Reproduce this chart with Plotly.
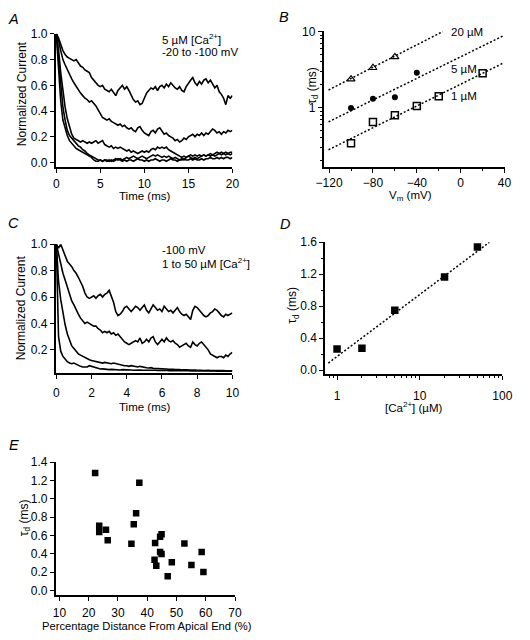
import plotly.graph_objects as go

W, H = 530, 640
FONT = "Liberation Sans, Arial, Helvetica, sans-serif"
FS = 12
FS_NOTE = 11.5

# ---------------- Panel A : 5 uM Ca, -20 to -100 mV ----------------
A_TIME_MS = [0, 0.25, 0.5, 0.75, 1, 1.25, 1.5, 1.75, 2, 2.25, 2.5, 2.75, 3, 3.25, 3.5, 3.75,
             4, 4.25, 4.5, 4.75, 5, 5.25, 5.5, 5.75, 6, 6.25, 6.5, 6.75, 7, 7.25, 7.5, 7.75,
             8, 8.25, 8.5, 8.75, 9, 9.25, 9.5, 9.75, 10, 10.25, 10.5, 10.75, 11, 11.25, 11.5,
             11.75, 12, 12.25, 12.5, 12.75, 13, 13.25, 13.5, 13.75, 14, 14.25, 14.5, 14.75,
             15, 15.25, 15.5, 15.75, 16, 16.25, 16.5, 16.75, 17, 17.25, 17.5, 17.75, 18,
             18.25, 18.5, 18.75, 19, 19.25, 19.5, 19.75, 20]
A_TRACE_1 = [1.0, 0.97, 0.92, 0.87, 0.84, 0.82, 0.81, 0.80, 0.79, 0.80,
             0.77, 0.75, 0.74, 0.72, 0.71, 0.70, 0.66, 0.64, 0.62, 0.60,
             0.59, 0.60, 0.57, 0.56, 0.55, 0.57, 0.54, 0.52, 0.56, 0.58,
             0.60, 0.57, 0.59, 0.56, 0.52, 0.49, 0.47, 0.48, 0.45, 0.46,
             0.50,
             0.54, 0.56, 0.58, 0.57, 0.59, 0.56, 0.59, 0.60, 0.58, 0.61,
             0.59, 0.62, 0.60, 0.58, 0.57, 0.59, 0.56, 0.55, 0.59, 0.62,
             0.64, 0.66, 0.62, 0.60, 0.63, 0.61, 0.64, 0.65, 0.62, 0.64,
             0.61, 0.58, 0.60, 0.55, 0.53, 0.50, 0.45, 0.52, 0.50, 0.52]
A_TRACE_2 = [1.0, 0.95, 0.87, 0.80, 0.76, 0.72, 0.69, 0.65, 0.62, 0.59,
             0.57, 0.54, 0.52, 0.50, 0.49, 0.47, 0.48, 0.46, 0.44, 0.41,
             0.38, 0.35, 0.34, 0.33, 0.34, 0.32, 0.31, 0.30, 0.29, 0.30,
             0.28, 0.29, 0.27, 0.26, 0.27, 0.25, 0.24, 0.27, 0.28, 0.25,
             0.23,
             0.22, 0.21, 0.24, 0.25, 0.23, 0.26, 0.27, 0.24, 0.22, 0.23,
             0.21, 0.20, 0.19, 0.17, 0.18, 0.16, 0.17, 0.19, 0.18, 0.20,
             0.21, 0.22, 0.20, 0.22, 0.21, 0.23, 0.21, 0.23, 0.22, 0.24,
             0.26, 0.25, 0.23, 0.24, 0.22, 0.24, 0.23, 0.25, 0.24, 0.25]
A_TRACE_3 = [1.0, 0.88, 0.70, 0.55, 0.43, 0.34, 0.27, 0.22, 0.19, 0.18,
             0.17, 0.16, 0.17, 0.16, 0.15, 0.16, 0.15, 0.16, 0.17, 0.15,
             0.16, 0.17, 0.14, 0.13, 0.12, 0.13, 0.11, 0.12, 0.11, 0.12,
             0.11, 0.10, 0.09, 0.10, 0.08, 0.09, 0.08, 0.07, 0.08, 0.09,
             0.08,
             0.09, 0.08, 0.10, 0.11, 0.10, 0.12, 0.11, 0.12, 0.11, 0.12,
             0.10, 0.09, 0.08, 0.07, 0.06, 0.05, 0.04, 0.05, 0.04, 0.05,
             0.06, 0.05, 0.06, 0.05, 0.06, 0.05, 0.06, 0.05, 0.06, 0.07,
             0.06, 0.07, 0.08, 0.07, 0.08, 0.07, 0.08, 0.07, 0.08, 0.08]
A_TRACE_4 = [1.0, 0.80, 0.58, 0.43, 0.33, 0.25, 0.21, 0.19, 0.17, 0.15,
             0.13, 0.12, 0.10, 0.09, 0.07, 0.06, 0.05, 0.04, 0.03, 0.02,
             0.02, 0.01, 0.02, 0.01, 0.02, 0.01, 0.02, 0.03, 0.02, 0.03,
             0.02, 0.03, 0.04, 0.03, 0.04, 0.05, 0.04, 0.03, 0.04, 0.05,
             0.04,
             0.03, 0.04, 0.05, 0.06, 0.05, 0.06, 0.05, 0.04, 0.05, 0.04,
             0.05, 0.04, 0.03, 0.04, 0.03, 0.02, 0.03, 0.02, 0.04, 0.05,
             0.04, 0.03, 0.04, 0.03, 0.04, 0.05, 0.06, 0.05, 0.06, 0.05,
             0.06, 0.05, 0.06, 0.07, 0.06, 0.07, 0.06, 0.07, 0.06, 0.07]
A_TRACE_5 = [1.0, 0.72, 0.48, 0.33, 0.26, 0.21, 0.17, 0.15, 0.13, 0.11,
             0.10, 0.09, 0.08, 0.07, 0.06, 0.05, 0.04, 0.02, 0.01, 0.01,
             0.02, 0.01, 0.02, 0.02, 0.01, 0.02, 0.01, 0.02, 0.03, 0.02,
             0.01, 0.02, 0.01, 0.02, 0.02, 0.01, 0.02, 0.03, 0.02, 0.02,
             0.01,
             0.02, 0.01, 0.02, 0.02, 0.03, 0.02, 0.01, 0.02, 0.02, 0.01,
             0.02, 0.03, 0.02, 0.02, 0.01, 0.02, 0.02, 0.03, 0.02, 0.02,
             0.03, 0.02, 0.03, 0.02, 0.02, 0.03, 0.02, 0.03, 0.03, 0.04,
             0.03, 0.03, 0.04, 0.03, 0.04, 0.03, 0.04, 0.04, 0.03, 0.04]
A_TICKS_X = [0, 5, 10, 15, 20]
A_TICKS_Y = [0.0, 0.2, 0.4, 0.6, 0.8, 1.0]

# ---------------- Panel B : tau_d vs Vm ----------------
B20_VM = [-100, -80, -60]
B20_TAU = [2.37, 3.35, 4.65]
B5_VM = [-100, -80, -60, -40]
B5_TAU = [0.99, 1.31, 1.37, 2.89]
B1_VM = [-100, -80, -60, -40, -20, 20]
B1_TAU = [0.342, 0.65, 0.795, 1.05, 1.41, 2.84]
B20_FIT_VM = [-120.5, -16.4]
B20_FIT_TAU = [1.71, 10.0]
B5_FIT_VM = [-120.5, 39.3]
B5_FIT_TAU = [0.652, 8.87]
B1_FIT_VM = [-120.5, 39.3]
B1_FIT_TAU = [0.28, 3.89]
B_TICKS_X = [-120, -80, -40, 0, 40]
B_MINOR_X = [-100, -60, -20, 20]
B_TICKS_Y = [1, 10]
B_MINOR_Y = [0.2, 0.3, 0.4, 0.5, 0.6, 0.7, 0.8, 0.9, 2, 3, 4, 5, 6, 7, 8, 9]

# ---------------- Panel C : -100 mV, 1 to 50 uM Ca ----------------
C_TIME_MS = [0, 0.125, 0.25, 0.375, 0.5, 0.625, 0.75, 0.875, 1, 1.125, 1.25, 1.375, 1.5,
             1.625, 1.75, 1.875, 2, 2.125, 2.25, 2.375, 2.5, 2.625, 2.75, 2.875, 3, 3.125,
             3.25, 3.375, 3.5, 3.625, 3.75, 3.875, 4, 4.125, 4.25, 4.375, 4.5, 4.625, 4.75,
             4.875, 5, 5.125, 5.25, 5.375, 5.5, 5.625, 5.75, 5.875, 6, 6.125, 6.25, 6.375,
             6.5, 6.625, 6.75, 6.875, 7, 7.125, 7.25, 7.375, 7.5, 7.625, 7.75, 7.875, 8,
             8.125, 8.25, 8.375, 8.5, 8.625, 8.75, 8.875, 9, 9.125, 9.25, 9.375, 9.5, 9.625,
             9.75, 9.875, 10]
C_TRACE_1 = [1.0, 0.97, 1.0, 0.96, 0.92, 0.87, 0.85, 0.83, 0.80, 0.78,
             0.75, 0.72, 0.68, 0.63, 0.60, 0.59, 0.60, 0.61, 0.59, 0.61,
             0.62, 0.60, 0.62, 0.63, 0.65, 0.61, 0.56, 0.49, 0.46, 0.47,
             0.49, 0.52, 0.53, 0.51, 0.49, 0.51, 0.53, 0.52, 0.50, 0.52,
             0.54, 0.50, 0.48, 0.51, 0.54, 0.52, 0.50, 0.51, 0.49, 0.53,
             0.51, 0.49, 0.50, 0.48, 0.50, 0.52, 0.49, 0.47, 0.46, 0.47,
             0.45, 0.43, 0.50, 0.53, 0.52, 0.50, 0.48, 0.46, 0.45, 0.46,
             0.48, 0.49, 0.51, 0.50, 0.48, 0.46, 0.45, 0.47, 0.46, 0.47,
             0.48]
C_TRACE_2 = [1.0, 0.92, 0.84, 0.78, 0.73, 0.67, 0.63, 0.57, 0.54, 0.50,
             0.47, 0.44, 0.42, 0.40, 0.41, 0.40, 0.39, 0.38, 0.38, 0.36,
             0.35, 0.33, 0.34, 0.33, 0.34, 0.32, 0.33, 0.31, 0.32, 0.30,
             0.28, 0.26, 0.25, 0.24, 0.25, 0.26, 0.27, 0.26, 0.29, 0.25,
             0.26, 0.28, 0.26, 0.29, 0.30, 0.26, 0.24, 0.26, 0.28, 0.26,
             0.29, 0.27, 0.26, 0.27, 0.25, 0.24, 0.22, 0.23, 0.24, 0.25,
             0.23, 0.22, 0.26, 0.24, 0.23, 0.25, 0.26, 0.24, 0.22, 0.20,
             0.17, 0.16, 0.15, 0.14, 0.15, 0.15, 0.14, 0.16, 0.15, 0.17,
             0.18]
C_TRACE_3 = [1.0, 0.72, 0.58, 0.47, 0.39, 0.32, 0.27, 0.23, 0.21, 0.19,
             0.17, 0.16, 0.15, 0.14, 0.13, 0.125, 0.12, 0.115, 0.11, 0.105,
             0.105, 0.10, 0.105, 0.10, 0.10, 0.095, 0.10, 0.095, 0.09, 0.09,
             0.085, 0.08, 0.08, 0.075, 0.08, 0.075, 0.075, 0.07, 0.075, 0.07,
             0.068, 0.065, 0.063, 0.065, 0.06, 0.06, 0.058, 0.06, 0.056, 0.058,
             0.055, 0.053, 0.055, 0.052, 0.05, 0.052, 0.05, 0.048, 0.05, 0.048,
             0.047, 0.048, 0.046, 0.047, 0.045, 0.047, 0.045, 0.044, 0.046, 0.045,
             0.043, 0.045, 0.044, 0.043, 0.045, 0.043, 0.044, 0.042, 0.043, 0.042,
             0.042]
C_TRACE_4 = [1.0, 0.30, 0.19, 0.15, 0.13, 0.11, 0.10, 0.095, 0.10, 0.09,
             0.085, 0.075, 0.07, 0.068, 0.07, 0.08, 0.075, 0.065, 0.06, 0.058,
             0.055, 0.056, 0.053, 0.052, 0.05, 0.052, 0.05, 0.049, 0.05, 0.048,
             0.05, 0.048, 0.047, 0.049, 0.047, 0.046, 0.048, 0.046, 0.047, 0.045,
             0.046,
             0.045, 0.046, 0.044, 0.045, 0.046, 0.044, 0.045, 0.043, 0.044, 0.045,
             0.043, 0.044, 0.042, 0.043, 0.044, 0.042, 0.043, 0.041, 0.042, 0.043,
             0.041, 0.042, 0.040, 0.041, 0.042, 0.040, 0.041, 0.040, 0.042, 0.041,
             0.040, 0.041, 0.039, 0.040, 0.041, 0.039, 0.040, 0.039, 0.040, 0.039]
C_TICKS_X = [0, 2, 4, 6, 8, 10]
C_TICKS_Y = [0.2, 0.4, 0.6, 0.8, 1.0]

# ---------------- Panel D : tau_d vs [Ca] ----------------
D_CA_UM = [1, 2, 5, 20, 50]
D_TAU = [0.267, 0.274, 0.75, 1.165, 1.54]
D_FIT_CA = [0.785, 69.8]
D_FIT_TAU = [0.09, 1.6]
D_TICKS_X = [1, 10, 100]
D_MINOR_X = [0.8, 0.9, 2, 3, 4, 5, 6, 7, 8, 9, 20, 30, 40, 50, 60, 70, 80, 90]
D_TICKS_Y = [0.0, 0.4, 0.8, 1.2, 1.6]
D_MINOR_Y = [0.2, 0.6, 1.0, 1.4]

# ---------------- Panel E : tau_d vs position ----------------
E_DIST_PCT = [22.2, 37.3, 36.2, 35.4, 23.6, 23.6, 25.9, 26.5, 34.6, 42.7, 44.4,
              44.9, 44.4, 44.9, 42.5, 43.1, 48.4, 52.7, 47.0, 55.1, 58.6, 59.2]
E_TAU = [1.28, 1.175, 0.842, 0.723, 0.705, 0.638, 0.662, 0.548, 0.509, 0.516, 0.584,
         0.612, 0.419, 0.397, 0.333, 0.269, 0.308, 0.512, 0.154, 0.276, 0.419, 0.20]
E_TICKS_X = [10, 20, 30, 40, 50, 60, 70]
E_TICKS_Y = [0.0, 0.2, 0.4, 0.6, 0.8, 1.0, 1.2, 1.4]

for arr in (A_TRACE_1, A_TRACE_2, A_TRACE_3, A_TRACE_4, A_TRACE_5):
    assert len(arr) == len(A_TIME_MS), len(arr)
for arr in (C_TRACE_1, C_TRACE_2, C_TRACE_3, C_TRACE_4):
    assert len(arr) == len(C_TIME_MS), len(arr)


def fx(p):
    return p / W


def fy(p):
    return 1 - p / H


fig = go.Figure()
line_style = dict(color="black", width=1.6)

for tr in (A_TRACE_1, A_TRACE_2, A_TRACE_3, A_TRACE_4, A_TRACE_5):
    fig.add_trace(go.Scatter(x=A_TIME_MS, y=tr, mode="lines", line=line_style,
                             xaxis="x", yaxis="y", showlegend=False))

fit_line = dict(color="black", width=1.5, dash="2px,2px")
for vx, ty in ((B20_FIT_VM, B20_FIT_TAU), (B5_FIT_VM, B5_FIT_TAU), (B1_FIT_VM, B1_FIT_TAU)):
    fig.add_trace(go.Scatter(x=vx, y=ty, mode="lines", line=fit_line,
                             xaxis="x2", yaxis="y2", showlegend=False))
fig.add_trace(go.Scatter(x=B20_VM, y=B20_TAU, mode="markers", xaxis="x2", yaxis="y2",
                         marker=dict(symbol="triangle-up-open", size=7, color="black",
                                     line=dict(width=1.2, color="black")), showlegend=False))
fig.add_trace(go.Scatter(x=B5_VM, y=B5_TAU, mode="markers", xaxis="x2", yaxis="y2",
                         marker=dict(symbol="circle", size=6, color="black"), showlegend=False))
fig.add_trace(go.Scatter(x=B1_VM, y=B1_TAU, mode="markers", xaxis="x2", yaxis="y2",
                         marker=dict(symbol="square-open", size=7, color="black",
                                     line=dict(width=1.5, color="black")), showlegend=False))

for tr in (C_TRACE_1, C_TRACE_2, C_TRACE_3, C_TRACE_4):
    fig.add_trace(go.Scatter(x=C_TIME_MS, y=tr, mode="lines", line=line_style,
                             xaxis="x3", yaxis="y3", showlegend=False))

fig.add_trace(go.Scatter(x=D_FIT_CA, y=D_FIT_TAU, mode="lines", line=fit_line,
                         xaxis="x4", yaxis="y4", showlegend=False))
fig.add_trace(go.Scatter(x=D_CA_UM, y=D_TAU, mode="markers", xaxis="x4", yaxis="y4",
                         marker=dict(symbol="square", size=7.5, color="black"), showlegend=False))

fig.add_trace(go.Scatter(x=E_DIST_PCT, y=E_TAU, mode="markers", xaxis="x5", yaxis="y5",
                         marker=dict(symbol="square", size=6.5, color="black"), showlegend=False))

tickfont = dict(family=FONT, size=FS, color="black")
common = dict(showline=True, linecolor="black", linewidth=1.5, ticks="outside",
              ticklen=4, tickwidth=1, tickcolor="black", showgrid=False,
              zeroline=False, tickfont=tickfont, fixedrange=True)
minor_style = dict(ticks="outside", ticklen=2, tickwidth=1, tickcolor="black", showgrid=False)

fig.update_layout(
    width=W, height=H, margin=dict(l=0, r=0, t=0, b=0),
    paper_bgcolor="white", plot_bgcolor="white", showlegend=False,
    font=dict(family=FONT, size=FS, color="black"),
    xaxis=dict(common, domain=[fx(49.3), fx(232.3)], range=[-0.077, 20],
               tickvals=A_TICKS_X, anchor="y"),
    yaxis=dict(common, domain=[fy(163), fy(27.3)], range=[-0.038, 1.0],
               tickvals=A_TICKS_Y, tickformat=".1f", anchor="x"),
    xaxis2=dict(common, domain=[fx(326.7), fx(514)], range=[-125, 40],
                tickvals=B_TICKS_X, anchor="y2",
                minor=dict(minor_style, tickvals=B_MINOR_X)),
    yaxis2=dict(common, type="log", domain=[fy(162.3), fy(24)], range=[-0.776, 1.013],
                tickvals=B_TICKS_Y, ticktext=["1", "10"], anchor="x2",
                minor=dict(minor_style, tickvals=B_MINOR_Y)),
    xaxis3=dict(common, domain=[fx(49.3), fx(232.3)], range=[-0.04, 10],
                tickvals=C_TICKS_X, anchor="y3", ticklabelstandoff=4),
    yaxis3=dict(common, domain=[fy(371.7), fy(241)], range=[0.0255, 1.0],
                tickvals=C_TICKS_Y, tickformat=".1f", anchor="x3"),
    xaxis4=dict(common, type="log", domain=[fx(328.3), fx(511.7)], range=[-0.144, 2.0],
                tickvals=D_TICKS_X, ticktext=["1", "10", "100"], anchor="y4",
                ticklabelstandoff=5, minor=dict(minor_style, tickvals=D_MINOR_X)),
    yaxis4=dict(common, domain=[fy(373.3), fy(239)], range=[-0.053, 1.6],
                tickvals=D_TICKS_Y, tickformat=".1f", anchor="x4",
                minor=dict(minor_style, tickvals=D_MINOR_Y)),
    xaxis5=dict(common, domain=[fx(49.3), fx(235)], range=[8.7, 70],
                tickvals=E_TICKS_X, anchor="y5", ticklabelstandoff=2),
    yaxis5=dict(common, domain=[fy(597.3), fy(462.3)], range=[-0.05, 1.4],
                tickvals=E_TICKS_Y, tickformat=".1f", anchor="x5"),
)


def note(text, x, y, xanchor="center", size=FS_NOTE, angle=0):
    fig.add_annotation(text=text, x=fx(x), y=fy(y), xref="paper", yref="paper",
                       xanchor=xanchor, yanchor="middle", showarrow=False,
                       textangle=angle, font=dict(family=FONT, size=size, color="black"))


# panel letters
for letter, lx, ly in (("A", 6, 12), ("B", 286, 10), ("C", 6, 219), ("D", 287, 220), ("E", 6, 445)):
    note("<i>%s</i>" % letter, lx, ly, size=14.5)

# axis titles
note("Normalized Current", 14, 88, size=12, angle=-90)
note("Time (ms)", 141, 191.5, size=11.5)
note("τ<sub>d</sub> (ms)", 315, 80, size=12, angle=-90)
note("V<sub>m</sub> (mV)", 417, 192, size=11.5)
note("Normalized Current", 13.5, 306, size=12, angle=-90)
note("Time (ms)", 141, 406, size=11.5)
note("τ<sub>d</sub> (ms)", 295.5, 303, size=12, angle=-90)
note("[Ca<sup>2+</sup>] (µM)", 420, 406, size=11.5)
note("τ<sub>d</sub> (ms)", 17, 519, size=12, angle=-90)
note("Percentage Distance From Apical End (%)", 144, 629, size=11.2)

# in-plot labels
note("5 µM [Ca<sup>2+</sup>]", 157, 33, xanchor="left")
note("-20 to -100 mV", 157, 46, xanchor="left")
note("20 µM", 456, 25, xanchor="left")
note("5 µM", 457, 63, xanchor="left")
note("1 µM", 457, 90, xanchor="left")
note("-100 mV", 157, 247, xanchor="left")
note("1 to 50 µM [Ca<sup>2+</sup>]", 157, 260, xanchor="left")

fig.write_html("out.html", config={"displayModeBar": False},
               post_script="document.body.style.margin='0';")
